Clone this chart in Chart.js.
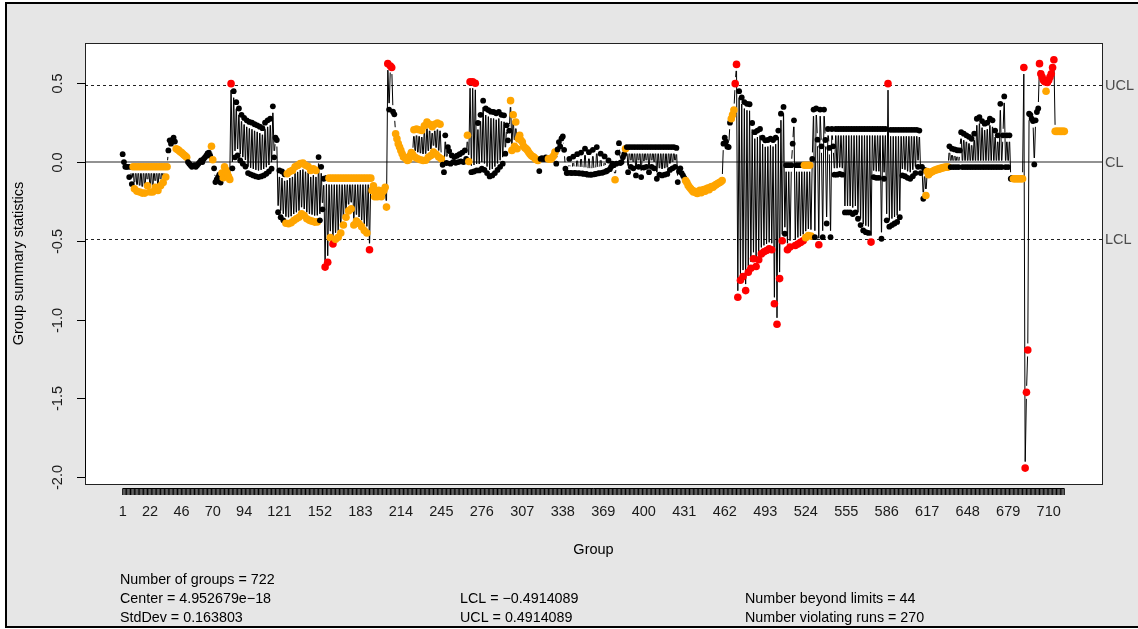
<!DOCTYPE html>
<html>
<head>
<meta charset="utf-8">
<script src="https://cdn.jsdelivr.net/npm/chart.js@4.4.1/dist/chart.umd.min.js"></script>
<style>
  html, body { margin: 0; padding: 0; background: #ffffff; }
  canvas { display: block; }
</style>
</head>
<body>
<canvas id="qcc" width="1138" height="629"></canvas>
<script>
// Group summary statistics (xbar chart), groups 1..722
const groupValues = [
  0.05, 0.00, -0.03, -0.03, -0.03, -0.095, -0.03, -0.14, -0.03, -0.17,
  -0.03, -0.185, -0.03, -0.19, -0.03, -0.197, -0.03, -0.197, -0.03, -0.15,
  -0.03, -0.19, -0.03, -0.19, -0.03, -0.16, -0.03, -0.18, -0.03, -0.15,
  -0.03, -0.13, -0.03, -0.095, -0.03, 0.074, 0.138, 0.117, 0.14, 0.155,
  0.13, 0.085, 0.08, 0.074, 0.065, 0.06, 0.053, 0.045, 0.038, 0.03,
  0.0, -0.01, -0.02, -0.03, -0.025, -0.02, -0.03, -0.02, -0.01, 0.0,
  0.01, 0.0, 0.02, 0.03, 0.04, 0.055, 0.06, 0.04, 0.1, 0.015,
  -0.04, -0.127, -0.11, -0.095, -0.08, -0.13, -0.07, -0.1, -0.03, -0.05,
  -0.07, -0.09, -0.11, 0.498, -0.04, 0.45, 0.03, 0.38, 0.042, 0.34,
  0.01, 0.30, -0.01, 0.28, -0.028, 0.265, -0.07, 0.255, -0.078, 0.25,
  -0.085, 0.24, -0.091, 0.233, -0.095, 0.225, -0.091, 0.215, -0.085, 0.25,
  -0.074, 0.265, -0.06, 0.275, -0.042, 0.354, 0.03, 0.155, 0.14, -0.318,
  -0.053, -0.35, -0.06, -0.37, -0.078, -0.388, -0.074, -0.392, -0.06, -0.385,
  -0.053, -0.371, -0.03, -0.36, -0.021, -0.35, -0.01, -0.328, -0.006, -0.339,
  -0.02, -0.36, -0.028, -0.37, -0.053, -0.375, -0.042, -0.381, -0.053, -0.38,
  0.032, -0.37, -0.03, -0.3, -0.106, -0.667, -0.1, -0.636, -0.102, -0.48,
  -0.102, -0.52, -0.102, -0.49, -0.102, -0.477, -0.102, -0.45, -0.102, -0.40,
  -0.102, -0.35, -0.102, -0.31, -0.102, -0.297, -0.102, -0.40, -0.102, -0.375,
  -0.102, -0.39, -0.102, -0.41, -0.102, -0.434, -0.102, -0.45, -0.102, -0.557,
  -0.102, -0.18, -0.15, -0.22, -0.2, -0.22, -0.18, -0.21, -0.22, -0.19,
  -0.18, -0.16, -0.286, 0.625, 0.333, 0.61, 0.6, 0.32, 0.303, 0.18,
  0.148, 0.117, 0.095, 0.074, 0.053, 0.032, 0.03, 0.021, 0.01, 0.015,
  0.04, 0.06, 0.05, 0.205, 0.03, 0.21, 0.021, 0.205, 0.015, 0.2,
  0.01, 0.23, 0.012, 0.254, 0.03, 0.24, 0.042, 0.225, 0.063, 0.24,
  0.05, 0.248, 0.032, 0.24, 0.02, -0.017, -0.064, 0.17, -0.006, 0.095,
  0.07, -0.01, 0.042, 0.0, 0.032, -0.005, 0.04, 0.0, 0.05, 0.005,
  0.06, 0.0, 0.074, 0.02, 0.17, 0.004, 0.51, -0.064, 0.51, -0.06,
  0.50, -0.053, 0.248, -0.053, 0.30, -0.042, 0.39, -0.05, 0.34, -0.07,
  0.33, -0.091, 0.32, -0.085, 0.318, -0.07, 0.31, -0.05, 0.318, -0.03,
  0.30, -0.01, 0.297, 0.053, 0.233, 0.138, 0.2, 0.39, 0.074, 0.3,
  0.1, 0.254, 0.085, 0.148, 0.17, 0.138, 0.127, 0.1, 0.09, 0.085,
  0.074, 0.06, 0.05, 0.04, 0.035, 0.03, 0.02, 0.015, 0.01, -0.057,
  0.02, 0.025, 0.02, 0.02, 0.03, 0.02, 0.02, 0.02, 0.02, 0.03,
  0.04, 0.063, -0.01, 0.08, 0.127, 0.1, 0.15, 0.163, 0.078, -0.042,
  -0.07, -0.068, 0.02, -0.068, -0.07, 0.035, -0.068, -0.07, 0.05, -0.07,
  -0.072, 0.06, -0.072, -0.075, 0.085, -0.075, -0.08, 0.063, -0.08, -0.08,
  0.078, -0.078, -0.075, 0.095, -0.072, -0.07, 0.053, -0.068, -0.065, 0.036,
  -0.06, -0.055, 0.01, -0.045, -0.03, -0.01, -0.02, -0.112, -0.01, 0.06,
  0.12, -0.006, 0.0, 0.03, 0.05, 0.085, 0.095, -0.064, 0.095, -0.03,
  0.095, -0.04, 0.095, -0.085, 0.095, -0.03, 0.095, -0.095, 0.095, -0.035,
  0.095, -0.03, 0.095, -0.064, 0.095, -0.03, 0.095, -0.04, 0.095, -0.106,
  0.095, -0.08, 0.095, -0.085, 0.095, -0.08, 0.095, -0.075, 0.095, -0.05,
  0.095, -0.04, 0.095, -0.03, 0.09, -0.127, -0.06, -0.04, -0.07, -0.085,
  -0.1, -0.117, -0.13, -0.148, -0.16, -0.17, -0.18, -0.19, -0.185, -0.195,
  -0.2, -0.19, -0.18, -0.195, -0.18, -0.175, -0.185, -0.17, -0.165, -0.175,
  -0.16, -0.155, -0.16, -0.15, -0.145, -0.14, -0.135, -0.13, -0.125, -0.117,
  0.117, 0.155, 0.13, 0.098, 0.095, 0.25, 0.275, 0.3, 0.33, 0.498,
  0.62, -0.858, 0.45, -0.75, 0.41, -0.727, 0.381, -0.816, 0.37, -0.70,
  0.367, -0.674, 0.248, -0.614, 0.19, -0.663, 0.2, -0.62, 0.21, -0.583,
  0.155, -0.57, 0.138, -0.561, 0.14, -0.551, 0.148, -0.557, 0.14, -0.9,
  0.155, -1.03, 0.2, -0.74, 0.307, -0.5, 0.35, -0.455, -0.02, -0.557,
  -0.02, -0.54, -0.02, 0.117, 0.265, -0.53, -0.02, -0.52, -0.02, -0.51,
  -0.02, -0.5, -0.02, -0.48, -0.02, -0.466, -0.02, -0.47, 0.02, 0.333,
  -0.477, 0.34, 0.142, -0.525, 0.333, 0.1, -0.477, 0.333, 0.14, -0.39,
  0.21, 0.09, -0.477, 0.21, 0.1, -0.08, 0.21, -0.08, 0.21, -0.075,
  0.21, -0.08, 0.21, -0.32, 0.21, -0.32, 0.21, -0.32, 0.21, -0.33,
  0.21, -0.32, 0.21, -0.36, 0.21, -0.4, 0.21, -0.434, 0.21, -0.445,
  0.21, -0.45, 0.21, -0.508, 0.21, -0.095, 0.21, -0.1, 0.21, -0.1,
  0.21, -0.487, 0.21, -0.106, 0.21, -0.37, 0.498, -0.41, 0.205, -0.4,
  0.205, -0.39, 0.205, -0.38, 0.205, -0.35, 0.205, -0.085, 0.205, -0.09,
  0.205, -0.1, 0.205, -0.106, 0.205, -0.09, 0.205, -0.07, 0.205, -0.03,
  0.2, -0.07, -0.03, -0.233, -0.05, -0.212, -0.06, -0.08, -0.07, -0.065,
  -0.06, -0.055, -0.05, -0.05, -0.045, -0.045, -0.04, -0.04, -0.035, -0.035,
  -0.032, -0.032, -0.032, 0.1, -0.032, 0.085, -0.032, 0.08, -0.032, 0.075,
  -0.032, 0.074, 0.19, -0.032, 0.18, -0.032, 0.17, -0.032, 0.16, -0.032,
  0.148, -0.032, 0.18, -0.032, 0.275, -0.032, 0.286, -0.032, 0.26, -0.032,
  0.244, -0.032, 0.25, -0.032, 0.275, -0.032, 0.265, -0.032, 0.2, -0.032,
  0.17, -0.032, 0.37, -0.032, 0.17, 0.417, -0.032, 0.17, -0.032, 0.17,
  -0.106, -0.1, -0.106, -0.106, -0.106, -0.106, -0.106, -0.106, -0.106, -0.106,
  0.6, -1.943, -1.462, -1.193, 0.307, 0.3, 0.275, 0.26, -0.015, 0.265,
  0.318, 0.34, 0.625, 0.56, 0.54, 0.52, 0.51, 0.45, 0.505, 0.52,
  0.54, 0.56, 0.6, 0.65, 0.195, 0.195, 0.195, 0.195, 0.195, 0.195,
  0.195, 0.195
];

// Groups flagged by the run rule (inclusive ranges)
const runViolations = [
  [9, 35], [42, 50], [69, 70], [77, 83], [126, 150], [159, 203], [210, 245],
  [265, 266], [298, 319], [327, 332], [378, 378], [386, 386], [432, 460],
  [467, 469], [523, 528], [616, 633], [683, 690], [708, 708], [715, 722]
];

const centerValue = 4.952679e-18;
const lowerLimit = -0.4914089;
const upperLimit = 0.4914089;
const limitLabels = ["UCL", "CL", "LCL"];

const xTickLabels = [1, 22, 46, 70, 94, 121, 152, 183, 214, 245, 276, 307, 338,
  369, 400, 431, 462, 493, 524, 555, 586, 617, 648, 679, 710];
const yTicks = [-2.0, -1.5, -1.0, -0.5, 0.0, 0.5];
const yTickLabels = ["-2.0", "-1.5", "-1.0", "-0.5", "0.0", "0.5"];

const statsLeft = ["Number of groups = 722", "Center = 4.952679e\u221218", "StdDev = 0.163803"];
const statsMiddle = ["LCL = \u22120.4914089", "UCL = 0.4914089"];
const statsRight = ["Number beyond limits = 44", "Number violating runs = 270"];

// ---- derived point data ----
const groups = groupValues.map((v, i) => i + 1);
const points = groupValues.map((v, i) => ({ x: groups[i], y: v }));
function inRun(g) {
  return runViolations.some(r => g >= r[0] && g <= r[1]);
}
const pointKind = groupValues.map((v, i) => {
  if (v > upperLimit || v < lowerLimit) return "beyond";
  if (inRun(i + 1)) return "run";
  return "normal";
});
const kindColor = { beyond: "#ff0000", run: "#ffa500", normal: "#000000" };
const kindRadius = { beyond: 3.8, run: 3.8, normal: 2.9 };

// gap left around each point by the connecting segments ("both" style plot)
const SEGMENT_GAP = 6.5;

const FONT = '"Liberation Sans", Arial, Helvetica, sans-serif';
const FIG_BG = "#e6e6e6";

const decorations = {
  id: "qccDecorations",
  beforeDraw(chart) {
    const ctx = chart.ctx;
    const a = chart.chartArea;
    ctx.save();
    ctx.fillStyle = "#ffffff";
    ctx.fillRect(0, 0, chart.width, chart.height);
    ctx.fillStyle = FIG_BG;
    ctx.fillRect(6, 3, chart.width, 624);
    ctx.strokeStyle = "#000000";
    ctx.lineWidth = 2;
    ctx.strokeRect(6, 3, chart.width + 10, 624);
    ctx.fillStyle = "#ffffff";
    ctx.fillRect(a.left, a.top, a.right - a.left, a.bottom - a.top);
    ctx.restore();
  },
  beforeDatasetsDraw(chart) {
    const ctx = chart.ctx;
    const a = chart.chartArea;
    const y = chart.scales.y;
    ctx.save();
    // center line
    ctx.strokeStyle = "#6e6e6e";
    ctx.lineWidth = 1.5;
    const yc = y.getPixelForValue(centerValue);
    ctx.beginPath();
    ctx.moveTo(a.left, yc);
    ctx.lineTo(a.right, yc);
    ctx.stroke();
    // control limits
    ctx.strokeStyle = "#222222";
    ctx.lineWidth = 1;
    ctx.setLineDash([3, 3]);
    [upperLimit, lowerLimit].forEach(v => {
      const yy = Math.round(y.getPixelForValue(v)) + 0.5;
      ctx.beginPath();
      ctx.moveTo(a.left, yy);
      ctx.lineTo(a.right, yy);
      ctx.stroke();
    });
    ctx.setLineDash([]);

    // connecting segments between consecutive groups, stopped short of the points
    const els = chart.getDatasetMeta(0).data;
    ctx.strokeStyle = "#000000";
    ctx.lineWidth = 1;
    ctx.beginPath();
    for (let i = 1; i < els.length; i++) {
      const x0 = els[i - 1].x, y0 = els[i - 1].y;
      const x1 = els[i].x, y1 = els[i].y;
      const d = Math.hypot(x1 - x0, y1 - y0);
      const f = SEGMENT_GAP / d;
      if (f < 0.5) {
        ctx.moveTo(x0 + f * (x1 - x0), y0 + f * (y1 - y0));
        ctx.lineTo(x1 - f * (x1 - x0), y1 - f * (y1 - y0));
      }
    }
    ctx.stroke();
    ctx.restore();
  },
  afterDatasetsDraw(chart) {
    const ctx = chart.ctx;
    const a = chart.chartArea;
    const x = chart.scales.x;
    const y = chart.scales.y;
    ctx.save();
    // plot box
    ctx.strokeStyle = "#222222";
    ctx.lineWidth = 1;
    ctx.strokeRect(Math.round(a.left) + 0.5, Math.round(a.top) + 0.5,
      Math.round(a.right - a.left), Math.round(a.bottom - a.top));

    // x axis: a tick for every group
    ctx.strokeStyle = "#000000";
    ctx.lineWidth = 1;
    const bandTop = a.bottom + 4.5;
    const bandBottom = a.bottom + 11;
    ctx.beginPath();
    ctx.moveTo(x.getPixelForValue(groups[0]), bandTop);
    ctx.lineTo(x.getPixelForValue(groups[groups.length - 1]), bandTop);
    ctx.stroke();
    groups.forEach(g => {
      const px = x.getPixelForValue(g);
      ctx.beginPath();
      ctx.moveTo(px, bandTop);
      ctx.lineTo(px, bandBottom);
      ctx.stroke();
    });
    ctx.fillStyle = "#1a1a1a";
    ctx.font = "14.5px " + FONT;
    ctx.textAlign = "center";
    ctx.textBaseline = "middle";
    xTickLabels.forEach(g => {
      ctx.fillText(String(g), x.getPixelForValue(g), a.bottom + 28);
    });

    // y axis
    ctx.beginPath();
    ctx.moveTo(a.left + 0.5, y.getPixelForValue(yTicks[0]));
    ctx.lineTo(a.left + 0.5, y.getPixelForValue(yTicks[yTicks.length - 1]));
    ctx.stroke();
    yTicks.forEach((v, i) => {
      const py = Math.round(y.getPixelForValue(v)) + 0.5;
      ctx.beginPath();
      ctx.moveTo(a.left - 8, py);
      ctx.lineTo(a.left, py);
      ctx.stroke();
      ctx.save();
      ctx.translate(a.left - 27, py);
      ctx.rotate(-Math.PI / 2);
      ctx.fillText(yTickLabels[i], 0, 0);
      ctx.restore();
    });

    // axis titles
    ctx.fillStyle = "#000000";
    ctx.fillText("Group", (a.left + a.right) / 2, 550);
    ctx.save();
    ctx.translate(19, (a.top + a.bottom) / 2);
    ctx.rotate(-Math.PI / 2);
    ctx.fillText("Group summary statistics", 0, 0);
    ctx.restore();

    // limit labels on the right
    ctx.fillStyle = "#4d4d4d";
    ctx.textAlign = "left";
    [upperLimit, centerValue, lowerLimit].forEach((v, i) => {
      ctx.fillText(limitLabels[i], a.right + 3, y.getPixelForValue(v) + 1);
    });

    // summary statistics
    ctx.fillStyle = "#000000";
    ctx.font = "14.3px " + FONT;
    const rows = [580, 599, 618];
    statsLeft.forEach((t, i) => ctx.fillText(t, 120, rows[i]));
    statsMiddle.forEach((t, i) => ctx.fillText(t, 460, rows[i + 1]));
    statsRight.forEach((t, i) => ctx.fillText(t, 745, rows[i + 1]));
    ctx.restore();
  }
};

new Chart(document.getElementById("qcc"), {
  type: "line",
  data: {
    datasets: [{
      data: points,
      showLine: false,
      borderColor: "#000000",
      borderWidth: 1,
      pointStyle: "circle",
      pointBorderWidth: 0,
      pointRadius: ctx => kindRadius[pointKind[ctx.dataIndex]],
      pointHoverRadius: ctx => kindRadius[pointKind[ctx.dataIndex]],
      pointBackgroundColor: ctx => kindColor[pointKind[ctx.dataIndex]],
      pointBorderColor: ctx => kindColor[pointKind[ctx.dataIndex]]
    }]
  },
  options: {
    responsive: false,
    animation: false,
    devicePixelRatio: 1,
    events: [],
    layout: { padding: { left: 85, top: 43, right: 36, bottom: 145 } },
    plugins: { legend: { display: false }, tooltip: { enabled: false }, title: { display: false } },
    scales: {
      x: { type: "linear", display: false, min: -27.84, max: 750.84 },
      y: { type: "linear", display: false, min: -2.044, max: 0.756 }
    }
  },
  plugins: [decorations]
});
</script>
</body>
</html>
